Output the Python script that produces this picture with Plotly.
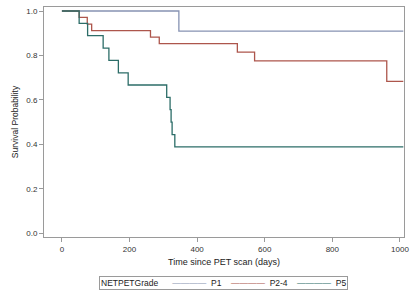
import plotly.graph_objects as go

# Kaplan-Meier step data (days, survival probability)
p1_time = [0, 346, 1010]
p1_surv = [1.0, 0.909, 0.909]

p24_time = [0, 51, 75, 88, 262, 288, 519, 570, 961, 1010]
p24_surv = [1.0, 0.971, 0.941, 0.912, 0.882, 0.853, 0.815, 0.776, 0.683, 0.683]

p5_time = [0, 51, 76, 122, 139, 167, 196, 310, 320, 323, 326, 334, 1010]
p5_surv = [1.0, 0.944, 0.889, 0.833, 0.778, 0.722, 0.667, 0.611, 0.556, 0.5, 0.444, 0.389, 0.389]

series_names = ["P1", "P2-4", "P5"]
series_colors = ["#8793b3", "#ad564c", "#2c6d68"]
legend_title = "NETPETGrade"

x_ticks = [0, 200, 400, 600, 800, 1000]
y_ticks = [0.0, 0.2, 0.4, 0.6, 0.8, 1.0]

FONT = "Liberation Sans, Arial, sans-serif"

fig = go.Figure()
for name, t, s, c in zip(series_names, [p1_time, p24_time, p5_time],
                         [p1_surv, p24_surv, p5_surv], series_colors):
    fig.add_trace(go.Scatter(x=t, y=s, mode="lines", name=name, showlegend=False,
                             line=dict(shape="hv", color=c, width=1.3)))

axis_common = dict(showline=True, linecolor="#9a9a9a", linewidth=1, mirror=True,
                   showgrid=False, zeroline=False, ticks="outside", ticklen=4,
                   tickcolor="#9a9a9a", automargin=False,
                   tickfont=dict(size=8, color="#333333", family=FONT))

fig.update_xaxes(range=[-53, 1012], tickvals=x_ticks,
                 title=dict(text="Time since PET scan (days)", font=dict(size=9, color="#222222", family=FONT), standoff=6),
                 **axis_common)
fig.update_yaxes(range=[-0.017, 1.018], tickvals=y_ticks, tickformat=".1f",
                 title=dict(text="Survival Probability", font=dict(size=8.5, color="#222222", family=FONT), standoff=6),
                 **axis_common)

# compact boxed legend (SAS style)
nb = "&nbsp;"
parts = [legend_title + nb * 6]
for i, (name, c) in enumerate(zip(series_names, series_colors)):
    parts.append(f"<span style='color:{c}'>————</span>{nb*2}{name}" + (nb * 4 if i < len(series_names) - 1 else ""))
legend_text = "".join(parts)

fig.add_annotation(text=legend_text, xref="paper", yref="paper", x=0.4986, y=-0.2,
                   xanchor="center", yanchor="middle", showarrow=False,
                   font=dict(size=8.5, color="#222222", family=FONT),
                   bordercolor="#9a9a9a", borderwidth=1, borderpad=1, bgcolor="white")

fig.update_layout(
    width=412, height=295,
    margin=dict(l=44, r=8, t=7, b=58, autoexpand=False),
    paper_bgcolor="white", plot_bgcolor="white",
    font=dict(family=FONT),
    showlegend=False,
)

fig.write_html("out.html", config={"displayModeBar": False},
               post_script="document.body.style.margin='0';document.body.style.padding='0';")
